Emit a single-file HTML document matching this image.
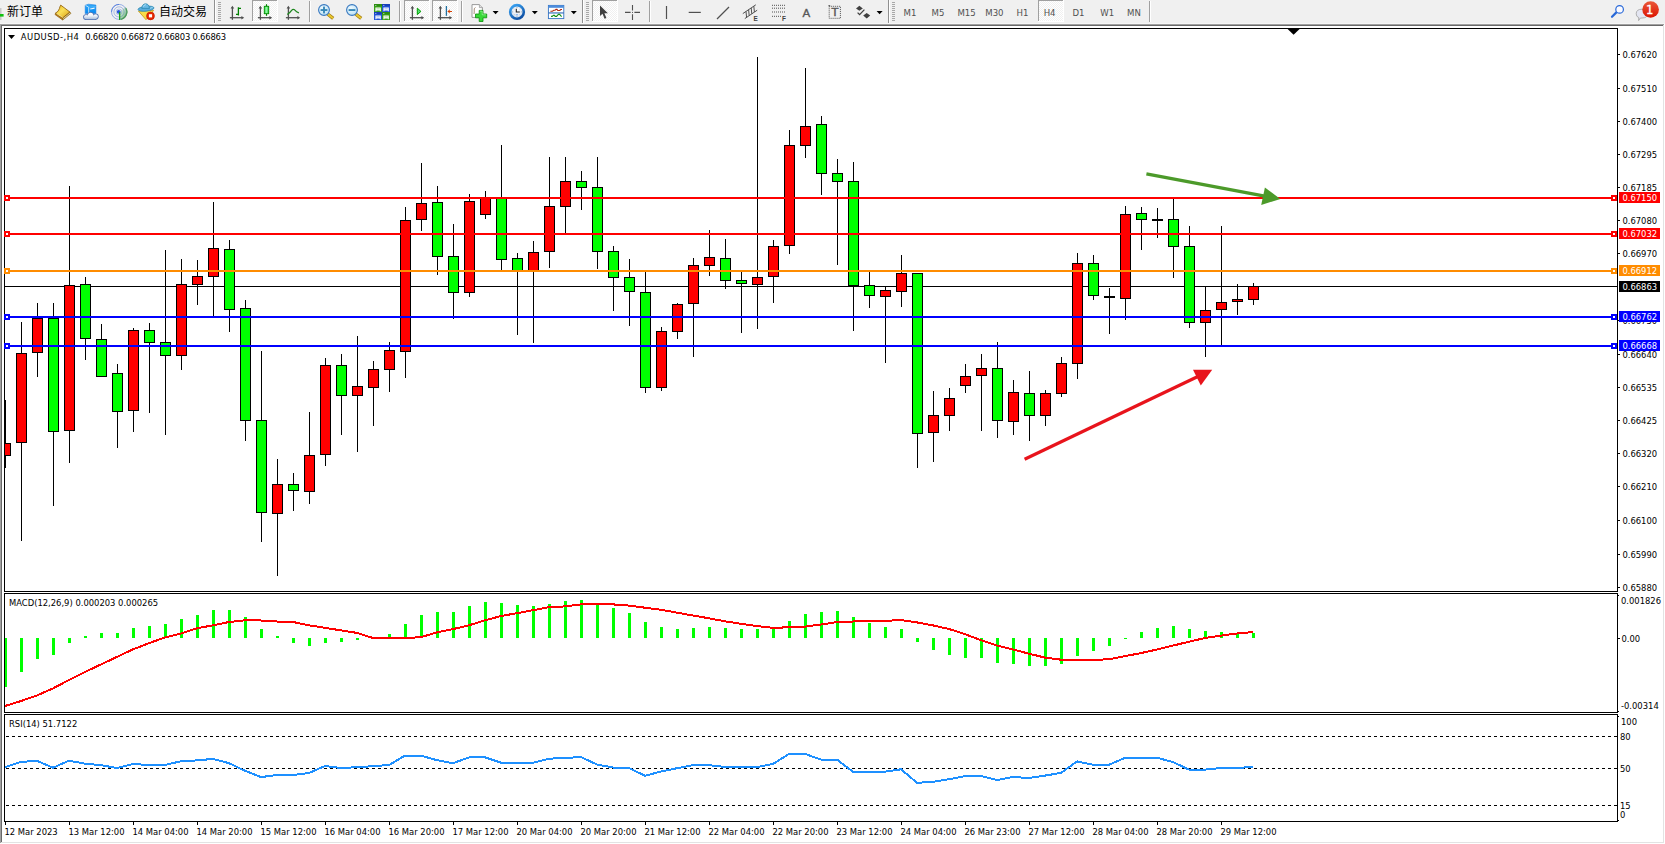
<!DOCTYPE html>
<html><head><meta charset="utf-8"><title>AUDUSD-,H4</title>
<style>
html,body{margin:0;padding:0;background:#fff;}
body{width:1665px;height:844px;position:relative;overflow:hidden;font-family:"Liberation Sans", "Noto Sans CJK SC", sans-serif;}
#tb{position:absolute;left:0;top:0;width:1665px;height:23px;background:#F0F0F0;}
#tbh{position:absolute;left:0;top:23px;width:1665px;height:1px;background:#F6F6F6;}
#e1{position:absolute;left:0;top:24px;width:1665px;height:820px;background:#FFFFFF;}
#e2{position:absolute;left:0;top:24px;width:1664px;height:819px;background:#A0A0A0;}
#e3{position:absolute;left:1px;top:25px;width:1663px;height:818px;background:#E3E3E3;}
#e4{position:absolute;left:1px;top:25px;width:1662px;height:817px;background:#696969;}
#e5{position:absolute;left:2px;top:26px;width:1661px;height:816px;background:#fff;}
.t{position:absolute;white-space:nowrap;}
</style></head><body>
<div id="tb"></div><div id="tbh"></div>
<div id="e1"></div><div id="e2"></div><div id="e3"></div><div id="e4"></div><div id="e5"></div>
<svg class="chart" width="1665" height="844" viewBox="0 0 1665 844" style="position:absolute;left:0;top:0">
<g shape-rendering="crispEdges">
<rect x="4" y="28" width="1614" height="1" fill="#000"/>
<rect x="4" y="591" width="1614" height="1" fill="#000"/>
<rect x="4" y="28" width="1" height="564" fill="#000"/>
<rect x="1617" y="28" width="1" height="564" fill="#000"/>
<rect x="4" y="593" width="1614" height="1" fill="#000"/>
<rect x="4" y="712" width="1614" height="1" fill="#000"/>
<rect x="4" y="593" width="1" height="120" fill="#000"/>
<rect x="1617" y="593" width="1" height="120" fill="#000"/>
<rect x="4" y="714" width="1614" height="1" fill="#000"/>
<rect x="4" y="821" width="1614" height="1" fill="#000"/>
<rect x="4" y="714" width="1" height="108" fill="#000"/>
<rect x="1617" y="714" width="1" height="108" fill="#000"/>
<defs><clipPath id="cm"><rect x="5" y="29" width="1612" height="562"/></clipPath><clipPath id="cd"><rect x="5" y="594" width="1612" height="118"/></clipPath><clipPath id="cr"><rect x="5" y="715" width="1612" height="106"/></clipPath></defs>
<rect x="5" y="286" width="1612" height="1" fill="#000"/>
<g clip-path="url(#cm)">
<rect x="5" y="400" width="1" height="68" fill="#000"/>
<rect x="0" y="443" width="11" height="13" fill="#000"/>
<rect x="1" y="444" width="9" height="11" fill="#FF0000"/>
<rect x="21" y="322" width="1" height="219" fill="#000"/>
<rect x="16" y="353" width="11" height="90" fill="#000"/>
<rect x="17" y="354" width="9" height="88" fill="#FF0000"/>
<rect x="37" y="303" width="1" height="74" fill="#000"/>
<rect x="32" y="318" width="11" height="35" fill="#000"/>
<rect x="33" y="319" width="9" height="33" fill="#FF0000"/>
<rect x="53" y="303" width="1" height="203" fill="#000"/>
<rect x="48" y="318" width="11" height="114" fill="#000"/>
<rect x="49" y="319" width="9" height="112" fill="#00FF00"/>
<rect x="69" y="186" width="1" height="277" fill="#000"/>
<rect x="64" y="285" width="11" height="146" fill="#000"/>
<rect x="65" y="286" width="9" height="144" fill="#FF0000"/>
<rect x="85" y="277" width="1" height="83" fill="#000"/>
<rect x="80" y="284" width="11" height="55" fill="#000"/>
<rect x="81" y="285" width="9" height="53" fill="#00FF00"/>
<rect x="101" y="324" width="1" height="53" fill="#000"/>
<rect x="96" y="339" width="11" height="38" fill="#000"/>
<rect x="97" y="340" width="9" height="36" fill="#00FF00"/>
<rect x="117" y="364" width="1" height="84" fill="#000"/>
<rect x="112" y="373" width="11" height="39" fill="#000"/>
<rect x="113" y="374" width="9" height="37" fill="#00FF00"/>
<rect x="133" y="328" width="1" height="104" fill="#000"/>
<rect x="128" y="330" width="11" height="81" fill="#000"/>
<rect x="129" y="331" width="9" height="79" fill="#FF0000"/>
<rect x="149" y="323" width="1" height="90" fill="#000"/>
<rect x="144" y="330" width="11" height="13" fill="#000"/>
<rect x="145" y="331" width="9" height="11" fill="#00FF00"/>
<rect x="165" y="250" width="1" height="185" fill="#000"/>
<rect x="160" y="342" width="11" height="14" fill="#000"/>
<rect x="161" y="343" width="9" height="12" fill="#00FF00"/>
<rect x="181" y="259" width="1" height="111" fill="#000"/>
<rect x="176" y="284" width="11" height="72" fill="#000"/>
<rect x="177" y="285" width="9" height="70" fill="#FF0000"/>
<rect x="197" y="260" width="1" height="45" fill="#000"/>
<rect x="192" y="276" width="11" height="9" fill="#000"/>
<rect x="193" y="277" width="9" height="7" fill="#FF0000"/>
<rect x="213" y="202" width="1" height="114" fill="#000"/>
<rect x="208" y="248" width="11" height="29" fill="#000"/>
<rect x="209" y="249" width="9" height="27" fill="#FF0000"/>
<rect x="229" y="240" width="1" height="92" fill="#000"/>
<rect x="224" y="249" width="11" height="61" fill="#000"/>
<rect x="225" y="250" width="9" height="59" fill="#00FF00"/>
<rect x="245" y="300" width="1" height="141" fill="#000"/>
<rect x="240" y="308" width="11" height="113" fill="#000"/>
<rect x="241" y="309" width="9" height="111" fill="#00FF00"/>
<rect x="261" y="351" width="1" height="191" fill="#000"/>
<rect x="256" y="420" width="11" height="93" fill="#000"/>
<rect x="257" y="421" width="9" height="91" fill="#00FF00"/>
<rect x="277" y="459" width="1" height="117" fill="#000"/>
<rect x="272" y="484" width="11" height="30" fill="#000"/>
<rect x="273" y="485" width="9" height="28" fill="#FF0000"/>
<rect x="293" y="473" width="1" height="38" fill="#000"/>
<rect x="288" y="484" width="11" height="7" fill="#000"/>
<rect x="289" y="485" width="9" height="5" fill="#00FF00"/>
<rect x="309" y="412" width="1" height="92" fill="#000"/>
<rect x="304" y="455" width="11" height="37" fill="#000"/>
<rect x="305" y="456" width="9" height="35" fill="#FF0000"/>
<rect x="325" y="358" width="1" height="108" fill="#000"/>
<rect x="320" y="365" width="11" height="90" fill="#000"/>
<rect x="321" y="366" width="9" height="88" fill="#FF0000"/>
<rect x="341" y="354" width="1" height="81" fill="#000"/>
<rect x="336" y="365" width="11" height="31" fill="#000"/>
<rect x="337" y="366" width="9" height="29" fill="#00FF00"/>
<rect x="357" y="336" width="1" height="116" fill="#000"/>
<rect x="352" y="386" width="11" height="10" fill="#000"/>
<rect x="353" y="387" width="9" height="8" fill="#FF0000"/>
<rect x="373" y="361" width="1" height="65" fill="#000"/>
<rect x="368" y="369" width="11" height="19" fill="#000"/>
<rect x="369" y="370" width="9" height="17" fill="#FF0000"/>
<rect x="389" y="342" width="1" height="50" fill="#000"/>
<rect x="384" y="350" width="11" height="20" fill="#000"/>
<rect x="385" y="351" width="9" height="18" fill="#FF0000"/>
<rect x="405" y="207" width="1" height="171" fill="#000"/>
<rect x="400" y="220" width="11" height="132" fill="#000"/>
<rect x="401" y="221" width="9" height="130" fill="#FF0000"/>
<rect x="421" y="163" width="1" height="68" fill="#000"/>
<rect x="416" y="203" width="11" height="17" fill="#000"/>
<rect x="417" y="204" width="9" height="15" fill="#FF0000"/>
<rect x="437" y="186" width="1" height="89" fill="#000"/>
<rect x="432" y="202" width="11" height="55" fill="#000"/>
<rect x="433" y="203" width="9" height="53" fill="#00FF00"/>
<rect x="453" y="224" width="1" height="95" fill="#000"/>
<rect x="448" y="256" width="11" height="37" fill="#000"/>
<rect x="449" y="257" width="9" height="35" fill="#00FF00"/>
<rect x="469" y="194" width="1" height="103" fill="#000"/>
<rect x="464" y="201" width="11" height="92" fill="#000"/>
<rect x="465" y="202" width="9" height="90" fill="#FF0000"/>
<rect x="485" y="191" width="1" height="28" fill="#000"/>
<rect x="480" y="198" width="11" height="17" fill="#000"/>
<rect x="481" y="199" width="9" height="15" fill="#FF0000"/>
<rect x="501" y="145" width="1" height="125" fill="#000"/>
<rect x="496" y="198" width="11" height="62" fill="#000"/>
<rect x="497" y="199" width="9" height="60" fill="#00FF00"/>
<rect x="517" y="253" width="1" height="82" fill="#000"/>
<rect x="512" y="258" width="11" height="13" fill="#000"/>
<rect x="513" y="259" width="9" height="11" fill="#00FF00"/>
<rect x="533" y="241" width="1" height="102" fill="#000"/>
<rect x="528" y="252" width="11" height="19" fill="#000"/>
<rect x="529" y="253" width="9" height="17" fill="#FF0000"/>
<rect x="549" y="157" width="1" height="111" fill="#000"/>
<rect x="544" y="206" width="11" height="46" fill="#000"/>
<rect x="545" y="207" width="9" height="44" fill="#FF0000"/>
<rect x="565" y="157" width="1" height="76" fill="#000"/>
<rect x="560" y="181" width="11" height="26" fill="#000"/>
<rect x="561" y="182" width="9" height="24" fill="#FF0000"/>
<rect x="581" y="171" width="1" height="39" fill="#000"/>
<rect x="576" y="181" width="11" height="7" fill="#000"/>
<rect x="577" y="182" width="9" height="5" fill="#00FF00"/>
<rect x="597" y="157" width="1" height="112" fill="#000"/>
<rect x="592" y="187" width="11" height="65" fill="#000"/>
<rect x="593" y="188" width="9" height="63" fill="#00FF00"/>
<rect x="613" y="246" width="1" height="65" fill="#000"/>
<rect x="608" y="251" width="11" height="27" fill="#000"/>
<rect x="609" y="252" width="9" height="25" fill="#00FF00"/>
<rect x="629" y="259" width="1" height="67" fill="#000"/>
<rect x="624" y="277" width="11" height="15" fill="#000"/>
<rect x="625" y="278" width="9" height="13" fill="#00FF00"/>
<rect x="645" y="272" width="1" height="121" fill="#000"/>
<rect x="640" y="292" width="11" height="96" fill="#000"/>
<rect x="641" y="293" width="9" height="94" fill="#00FF00"/>
<rect x="661" y="327" width="1" height="64" fill="#000"/>
<rect x="656" y="331" width="11" height="57" fill="#000"/>
<rect x="657" y="332" width="9" height="55" fill="#FF0000"/>
<rect x="677" y="303" width="1" height="36" fill="#000"/>
<rect x="672" y="304" width="11" height="28" fill="#000"/>
<rect x="673" y="305" width="9" height="26" fill="#FF0000"/>
<rect x="693" y="258" width="1" height="99" fill="#000"/>
<rect x="688" y="265" width="11" height="39" fill="#000"/>
<rect x="689" y="266" width="9" height="37" fill="#FF0000"/>
<rect x="709" y="230" width="1" height="46" fill="#000"/>
<rect x="704" y="257" width="11" height="9" fill="#000"/>
<rect x="705" y="258" width="9" height="7" fill="#FF0000"/>
<rect x="725" y="239" width="1" height="50" fill="#000"/>
<rect x="720" y="258" width="11" height="23" fill="#000"/>
<rect x="721" y="259" width="9" height="21" fill="#00FF00"/>
<rect x="741" y="272" width="1" height="61" fill="#000"/>
<rect x="736" y="280" width="11" height="4" fill="#000"/>
<rect x="737" y="281" width="9" height="2" fill="#00FF00"/>
<rect x="757" y="57" width="1" height="272" fill="#000"/>
<rect x="752" y="277" width="11" height="8" fill="#000"/>
<rect x="753" y="278" width="9" height="6" fill="#FF0000"/>
<rect x="773" y="240" width="1" height="63" fill="#000"/>
<rect x="768" y="246" width="11" height="31" fill="#000"/>
<rect x="769" y="247" width="9" height="29" fill="#FF0000"/>
<rect x="789" y="130" width="1" height="124" fill="#000"/>
<rect x="784" y="145" width="11" height="101" fill="#000"/>
<rect x="785" y="146" width="9" height="99" fill="#FF0000"/>
<rect x="805" y="68" width="1" height="90" fill="#000"/>
<rect x="800" y="126" width="11" height="20" fill="#000"/>
<rect x="801" y="127" width="9" height="18" fill="#FF0000"/>
<rect x="821" y="116" width="1" height="79" fill="#000"/>
<rect x="816" y="124" width="11" height="50" fill="#000"/>
<rect x="817" y="125" width="9" height="48" fill="#00FF00"/>
<rect x="837" y="159" width="1" height="106" fill="#000"/>
<rect x="832" y="173" width="11" height="9" fill="#000"/>
<rect x="833" y="174" width="9" height="7" fill="#00FF00"/>
<rect x="853" y="162" width="1" height="169" fill="#000"/>
<rect x="848" y="181" width="11" height="105" fill="#000"/>
<rect x="849" y="182" width="9" height="103" fill="#00FF00"/>
<rect x="869" y="272" width="1" height="36" fill="#000"/>
<rect x="864" y="285" width="11" height="11" fill="#000"/>
<rect x="865" y="286" width="9" height="9" fill="#00FF00"/>
<rect x="885" y="287" width="1" height="76" fill="#000"/>
<rect x="880" y="290" width="11" height="7" fill="#000"/>
<rect x="881" y="291" width="9" height="5" fill="#FF0000"/>
<rect x="901" y="255" width="1" height="52" fill="#000"/>
<rect x="896" y="273" width="11" height="19" fill="#000"/>
<rect x="897" y="274" width="9" height="17" fill="#FF0000"/>
<rect x="917" y="273" width="1" height="195" fill="#000"/>
<rect x="912" y="273" width="11" height="161" fill="#000"/>
<rect x="913" y="274" width="9" height="159" fill="#00FF00"/>
<rect x="933" y="391" width="1" height="71" fill="#000"/>
<rect x="928" y="415" width="11" height="18" fill="#000"/>
<rect x="929" y="416" width="9" height="16" fill="#FF0000"/>
<rect x="949" y="388" width="1" height="43" fill="#000"/>
<rect x="944" y="398" width="11" height="18" fill="#000"/>
<rect x="945" y="399" width="9" height="16" fill="#FF0000"/>
<rect x="965" y="364" width="1" height="29" fill="#000"/>
<rect x="960" y="376" width="11" height="10" fill="#000"/>
<rect x="961" y="377" width="9" height="8" fill="#FF0000"/>
<rect x="981" y="354" width="1" height="77" fill="#000"/>
<rect x="976" y="368" width="11" height="8" fill="#000"/>
<rect x="977" y="369" width="9" height="6" fill="#FF0000"/>
<rect x="997" y="342" width="1" height="96" fill="#000"/>
<rect x="992" y="368" width="11" height="53" fill="#000"/>
<rect x="993" y="369" width="9" height="51" fill="#00FF00"/>
<rect x="1013" y="380" width="1" height="55" fill="#000"/>
<rect x="1008" y="392" width="11" height="30" fill="#000"/>
<rect x="1009" y="393" width="9" height="28" fill="#FF0000"/>
<rect x="1029" y="371" width="1" height="70" fill="#000"/>
<rect x="1024" y="393" width="11" height="23" fill="#000"/>
<rect x="1025" y="394" width="9" height="21" fill="#00FF00"/>
<rect x="1045" y="390" width="1" height="36" fill="#000"/>
<rect x="1040" y="393" width="11" height="23" fill="#000"/>
<rect x="1041" y="394" width="9" height="21" fill="#FF0000"/>
<rect x="1061" y="357" width="1" height="40" fill="#000"/>
<rect x="1056" y="363" width="11" height="31" fill="#000"/>
<rect x="1057" y="364" width="9" height="29" fill="#FF0000"/>
<rect x="1077" y="253" width="1" height="126" fill="#000"/>
<rect x="1072" y="263" width="11" height="101" fill="#000"/>
<rect x="1073" y="264" width="9" height="99" fill="#FF0000"/>
<rect x="1093" y="255" width="1" height="45" fill="#000"/>
<rect x="1088" y="263" width="11" height="33" fill="#000"/>
<rect x="1089" y="264" width="9" height="31" fill="#00FF00"/>
<rect x="1109" y="288" width="1" height="46" fill="#000"/>
<rect x="1104" y="296" width="11" height="2" fill="#000"/>
<rect x="1125" y="206" width="1" height="114" fill="#000"/>
<rect x="1120" y="214" width="11" height="85" fill="#000"/>
<rect x="1121" y="215" width="9" height="83" fill="#FF0000"/>
<rect x="1141" y="207" width="1" height="43" fill="#000"/>
<rect x="1136" y="213" width="11" height="7" fill="#000"/>
<rect x="1137" y="214" width="9" height="5" fill="#00FF00"/>
<rect x="1157" y="208" width="1" height="30" fill="#000"/>
<rect x="1152" y="219" width="11" height="2" fill="#000"/>
<rect x="1173" y="199" width="1" height="79" fill="#000"/>
<rect x="1168" y="219" width="11" height="28" fill="#000"/>
<rect x="1169" y="220" width="9" height="26" fill="#00FF00"/>
<rect x="1189" y="226" width="1" height="102" fill="#000"/>
<rect x="1184" y="246" width="11" height="77" fill="#000"/>
<rect x="1185" y="247" width="9" height="75" fill="#00FF00"/>
<rect x="1205" y="287" width="1" height="70" fill="#000"/>
<rect x="1200" y="310" width="11" height="13" fill="#000"/>
<rect x="1201" y="311" width="9" height="11" fill="#FF0000"/>
<rect x="1221" y="226" width="1" height="120" fill="#000"/>
<rect x="1216" y="302" width="11" height="8" fill="#000"/>
<rect x="1217" y="303" width="9" height="6" fill="#FF0000"/>
<rect x="1237" y="284" width="1" height="31" fill="#000"/>
<rect x="1232" y="299" width="11" height="3" fill="#000"/>
<rect x="1233" y="300" width="9" height="1" fill="#FF0000"/>
<rect x="1253" y="283" width="1" height="22" fill="#000"/>
<rect x="1248" y="286" width="11" height="14" fill="#000"/>
<rect x="1249" y="287" width="9" height="12" fill="#FF0000"/>
</g>
<rect x="5" y="197" width="1612" height="2" fill="#FF0000"/>
<rect x="4" y="195" width="6" height="6" fill="#FF0000"/>
<rect x="6" y="197" width="2" height="2" fill="#fff"/>
<rect x="1611" y="195" width="6" height="6" fill="#FF0000"/>
<rect x="1613" y="197" width="2" height="2" fill="#fff"/>
<rect x="5" y="233" width="1612" height="2" fill="#FF0000"/>
<rect x="4" y="231" width="6" height="6" fill="#FF0000"/>
<rect x="6" y="233" width="2" height="2" fill="#fff"/>
<rect x="1611" y="231" width="6" height="6" fill="#FF0000"/>
<rect x="1613" y="233" width="2" height="2" fill="#fff"/>
<rect x="5" y="270" width="1612" height="2" fill="#FF8C00"/>
<rect x="4" y="268" width="6" height="6" fill="#FF8C00"/>
<rect x="6" y="270" width="2" height="2" fill="#fff"/>
<rect x="1611" y="268" width="6" height="6" fill="#FF8C00"/>
<rect x="1613" y="270" width="2" height="2" fill="#fff"/>
<rect x="5" y="316" width="1612" height="2" fill="#0000FF"/>
<rect x="4" y="314" width="6" height="6" fill="#0000FF"/>
<rect x="6" y="316" width="2" height="2" fill="#fff"/>
<rect x="1611" y="314" width="6" height="6" fill="#0000FF"/>
<rect x="1613" y="316" width="2" height="2" fill="#fff"/>
<rect x="5" y="345" width="1612" height="2" fill="#0000FF"/>
<rect x="4" y="343" width="6" height="6" fill="#0000FF"/>
<rect x="6" y="345" width="2" height="2" fill="#fff"/>
<rect x="1611" y="343" width="6" height="6" fill="#0000FF"/>
<rect x="1613" y="345" width="2" height="2" fill="#fff"/>
<rect x="1617" y="28" width="1" height="564" fill="#000"/>
<rect x="1618" y="54" width="2" height="1" fill="#000"/>
<rect x="1618" y="88" width="2" height="1" fill="#000"/>
<rect x="1618" y="121" width="2" height="1" fill="#000"/>
<rect x="1618" y="154" width="2" height="1" fill="#000"/>
<rect x="1618" y="187" width="2" height="1" fill="#000"/>
<rect x="1618" y="220" width="2" height="1" fill="#000"/>
<rect x="1618" y="253" width="2" height="1" fill="#000"/>
<rect x="1618" y="320" width="2" height="1" fill="#000"/>
<rect x="1618" y="354" width="2" height="1" fill="#000"/>
<rect x="1618" y="387" width="2" height="1" fill="#000"/>
<rect x="1618" y="420" width="2" height="1" fill="#000"/>
<rect x="1618" y="453" width="2" height="1" fill="#000"/>
<rect x="1618" y="486" width="2" height="1" fill="#000"/>
<rect x="1618" y="520" width="2" height="1" fill="#000"/>
<rect x="1618" y="554" width="2" height="1" fill="#000"/>
<rect x="1618" y="587" width="2" height="1" fill="#000"/>
<rect x="1618" y="595" width="1" height="1" fill="#000"/>
<rect x="1618" y="638" width="1" height="1" fill="#000"/>
<rect x="1618" y="711" width="1" height="1" fill="#000"/>
<rect x="1618" y="638" width="2" height="1" fill="#000"/>
<rect x="1618" y="716" width="1" height="1" fill="#000"/>
<rect x="1618" y="820" width="1" height="1" fill="#000"/>
<g clip-path="url(#cd)">
<rect x="4" y="638" width="3" height="49" fill="#00FF00"/>
<rect x="20" y="638" width="3" height="34" fill="#00FF00"/>
<rect x="36" y="638" width="3" height="21" fill="#00FF00"/>
<rect x="52" y="638" width="3" height="17" fill="#00FF00"/>
<rect x="68" y="638" width="3" height="5" fill="#00FF00"/>
<rect x="84" y="636" width="3" height="2" fill="#00FF00"/>
<rect x="100" y="633" width="3" height="5" fill="#00FF00"/>
<rect x="116" y="633" width="3" height="5" fill="#00FF00"/>
<rect x="132" y="628" width="3" height="10" fill="#00FF00"/>
<rect x="148" y="626" width="3" height="12" fill="#00FF00"/>
<rect x="164" y="624" width="3" height="14" fill="#00FF00"/>
<rect x="180" y="619" width="3" height="19" fill="#00FF00"/>
<rect x="196" y="615" width="3" height="23" fill="#00FF00"/>
<rect x="212" y="610" width="3" height="28" fill="#00FF00"/>
<rect x="228" y="610" width="3" height="28" fill="#00FF00"/>
<rect x="244" y="617" width="3" height="21" fill="#00FF00"/>
<rect x="260" y="629" width="3" height="9" fill="#00FF00"/>
<rect x="276" y="636" width="3" height="2" fill="#00FF00"/>
<rect x="292" y="638" width="3" height="5" fill="#00FF00"/>
<rect x="308" y="638" width="3" height="8" fill="#00FF00"/>
<rect x="324" y="638" width="3" height="5" fill="#00FF00"/>
<rect x="340" y="638" width="3" height="4" fill="#00FF00"/>
<rect x="356" y="638" width="3" height="2" fill="#00FF00"/>
<rect x="388" y="634" width="3" height="4" fill="#00FF00"/>
<rect x="404" y="624" width="3" height="14" fill="#00FF00"/>
<rect x="420" y="615" width="3" height="23" fill="#00FF00"/>
<rect x="436" y="612" width="3" height="26" fill="#00FF00"/>
<rect x="452" y="612" width="3" height="26" fill="#00FF00"/>
<rect x="468" y="606" width="3" height="32" fill="#00FF00"/>
<rect x="484" y="602" width="3" height="36" fill="#00FF00"/>
<rect x="500" y="603" width="3" height="35" fill="#00FF00"/>
<rect x="516" y="605" width="3" height="33" fill="#00FF00"/>
<rect x="532" y="606" width="3" height="32" fill="#00FF00"/>
<rect x="548" y="604" width="3" height="34" fill="#00FF00"/>
<rect x="564" y="601" width="3" height="37" fill="#00FF00"/>
<rect x="580" y="600" width="3" height="38" fill="#00FF00"/>
<rect x="596" y="604" width="3" height="34" fill="#00FF00"/>
<rect x="612" y="608" width="3" height="30" fill="#00FF00"/>
<rect x="628" y="613" width="3" height="25" fill="#00FF00"/>
<rect x="644" y="622" width="3" height="16" fill="#00FF00"/>
<rect x="660" y="627" width="3" height="11" fill="#00FF00"/>
<rect x="676" y="629" width="3" height="9" fill="#00FF00"/>
<rect x="692" y="628" width="3" height="10" fill="#00FF00"/>
<rect x="708" y="627" width="3" height="11" fill="#00FF00"/>
<rect x="724" y="628" width="3" height="10" fill="#00FF00"/>
<rect x="740" y="629" width="3" height="9" fill="#00FF00"/>
<rect x="756" y="629" width="3" height="9" fill="#00FF00"/>
<rect x="772" y="628" width="3" height="10" fill="#00FF00"/>
<rect x="788" y="621" width="3" height="17" fill="#00FF00"/>
<rect x="804" y="614" width="3" height="24" fill="#00FF00"/>
<rect x="820" y="612" width="3" height="26" fill="#00FF00"/>
<rect x="836" y="611" width="3" height="27" fill="#00FF00"/>
<rect x="852" y="617" width="3" height="21" fill="#00FF00"/>
<rect x="868" y="623" width="3" height="15" fill="#00FF00"/>
<rect x="884" y="627" width="3" height="11" fill="#00FF00"/>
<rect x="900" y="629" width="3" height="9" fill="#00FF00"/>
<rect x="916" y="638" width="3" height="4" fill="#00FF00"/>
<rect x="932" y="638" width="3" height="12" fill="#00FF00"/>
<rect x="948" y="638" width="3" height="17" fill="#00FF00"/>
<rect x="964" y="638" width="3" height="20" fill="#00FF00"/>
<rect x="980" y="638" width="3" height="20" fill="#00FF00"/>
<rect x="996" y="638" width="3" height="25" fill="#00FF00"/>
<rect x="1012" y="638" width="3" height="26" fill="#00FF00"/>
<rect x="1028" y="638" width="3" height="28" fill="#00FF00"/>
<rect x="1044" y="638" width="3" height="28" fill="#00FF00"/>
<rect x="1060" y="638" width="3" height="26" fill="#00FF00"/>
<rect x="1076" y="638" width="3" height="18" fill="#00FF00"/>
<rect x="1092" y="638" width="3" height="13" fill="#00FF00"/>
<rect x="1108" y="638" width="3" height="8" fill="#00FF00"/>
<rect x="1124" y="638" width="3" height="1" fill="#00FF00"/>
<rect x="1140" y="632" width="3" height="6" fill="#00FF00"/>
<rect x="1156" y="628" width="3" height="10" fill="#00FF00"/>
<rect x="1172" y="626" width="3" height="12" fill="#00FF00"/>
<rect x="1188" y="629" width="3" height="9" fill="#00FF00"/>
<rect x="1204" y="631" width="3" height="7" fill="#00FF00"/>
<rect x="1220" y="632" width="3" height="6" fill="#00FF00"/>
<rect x="1236" y="634" width="3" height="4" fill="#00FF00"/>
<rect x="1252" y="633" width="3" height="5" fill="#00FF00"/>
</g>
<path d="M6 736.5H1617" stroke="#000" stroke-width="1" stroke-dasharray="3 3" fill="none"/>
<path d="M6 768.5H1617" stroke="#000" stroke-width="1" stroke-dasharray="3 3" fill="none"/>
<path d="M6 805.5H1617" stroke="#000" stroke-width="1" stroke-dasharray="3 3" fill="none"/>
<rect x="5" y="822" width="1" height="3" fill="#000"/>
<rect x="69" y="822" width="1" height="3" fill="#000"/>
<rect x="133" y="822" width="1" height="3" fill="#000"/>
<rect x="197" y="822" width="1" height="3" fill="#000"/>
<rect x="261" y="822" width="1" height="3" fill="#000"/>
<rect x="325" y="822" width="1" height="3" fill="#000"/>
<rect x="389" y="822" width="1" height="3" fill="#000"/>
<rect x="453" y="822" width="1" height="3" fill="#000"/>
<rect x="517" y="822" width="1" height="3" fill="#000"/>
<rect x="581" y="822" width="1" height="3" fill="#000"/>
<rect x="645" y="822" width="1" height="3" fill="#000"/>
<rect x="709" y="822" width="1" height="3" fill="#000"/>
<rect x="773" y="822" width="1" height="3" fill="#000"/>
<rect x="837" y="822" width="1" height="3" fill="#000"/>
<rect x="901" y="822" width="1" height="3" fill="#000"/>
<rect x="965" y="822" width="1" height="3" fill="#000"/>
<rect x="1029" y="822" width="1" height="3" fill="#000"/>
<rect x="1093" y="822" width="1" height="3" fill="#000"/>
<rect x="1157" y="822" width="1" height="3" fill="#000"/>
<rect x="1221" y="822" width="1" height="3" fill="#000"/>
</g>
<g clip-path="url(#cd)"><polyline points="-11,710.5 5,706.0 21,701.0 37,695.4 53,688.4 69,680.0 85,672.0 101,664.4 117,656.9 133,649.3 149,643.2 165,637.4 181,633.6 197,628.3 213,625.3 229,622.0 245,620.3 261,620.5 277,621.5 293,622.0 309,625.3 325,627.8 341,630.4 357,632.9 373,638.0 389,638.0 405,638.0 421,637.2 437,632.4 453,629.1 469,625.3 485,620.3 501,616.0 517,613.2 533,610.2 549,607.2 565,606.4 581,604.4 597,603.9 613,604.4 629,605.6 645,607.7 661,609.7 677,612.7 693,615.5 709,618.3 725,621.3 741,623.8 757,626.1 773,627.8 789,627.3 805,626.6 821,624.5 837,622.1 853,621.5 869,621.2 885,620.9 901,620.0 917,622.4 933,625.4 949,629.0 965,634.1 981,640.2 997,645.6 1013,649.5 1029,653.7 1045,657.6 1061,659.7 1077,659.7 1093,659.7 1109,659.4 1125,656.1 1141,653.1 1157,649.5 1173,645.6 1189,641.7 1205,638.0 1221,635.6 1237,633.5 1253,632.0" fill="none" stroke="#FF0000" stroke-width="2" stroke-linejoin="round" shape-rendering="crispEdges"/></g>
<g clip-path="url(#cr)"><polyline points="-11,770 5,767.2 21,761.9 37,760.9 53,767.7 69,760.7 85,763.7 101,765.2 117,768.0 133,764.0 149,765.0 165,765.0 181,761.2 197,760.4 213,758.9 229,763.2 245,770.8 261,777.1 277,775.0 293,775.0 309,773.0 325,766.0 341,768.0 357,767.2 373,766.2 389,765.0 405,755.6 421,755.6 437,760.2 453,763.2 469,757.4 485,757.4 501,762.7 517,762.7 533,762.7 549,758.7 565,757.9 581,757.1 597,764.5 613,767.5 629,768.0 645,775.8 661,771.5 677,768.2 693,765.2 709,765.2 725,767.0 741,767.0 757,767.0 773,764.0 789,753.9 805,753.9 821,759.6 837,759.6 853,771.7 869,771.7 885,771.7 901,769.3 917,782.8 933,781.9 949,779.2 965,776.2 981,775.9 997,780.0 1013,777.0 1029,778.0 1045,775.6 1061,772.9 1077,761.4 1093,764.7 1109,764.7 1125,757.8 1141,757.8 1157,757.8 1173,762.0 1189,769.6 1205,769.6 1221,768.0 1237,768.0 1253,766.9" fill="none" stroke="#1E90FF" stroke-width="2" stroke-linejoin="round" shape-rendering="crispEdges"/></g>
<g>
<line x1="1024.6" y1="459.2" x2="1200" y2="375.5" stroke="#E8141C" stroke-width="3.2"/>
<polygon points="1193,369.8 1212.2,369.8 1200.8,385.4" fill="#E8141C"/>
<line x1="1146.4" y1="173.8" x2="1266" y2="196.3" stroke="#4C9A2A" stroke-width="3.4"/>
<polygon points="1264.9,187.4 1280.4,198.9 1261.2,205.1" fill="#4C9A2A"/>
</g>
<polygon points="1287.6,29 1299.6,29 1293.6,34.8" fill="#000"/>
<polygon points="8,35 15,35 11.5,39" fill="#000"/>
<g font-family='"DejaVu Sans Condensed", "Liberation Sans", sans-serif' font-size="9.33px" fill="#000">
<text x="20.8" y="39.8" textLength="58" lengthAdjust="spacing">AUDUSD-,H4</text>
<text x="85.2" y="39.8" textLength="140.8" lengthAdjust="spacing">0.66820 0.66872 0.66803 0.66863</text>
<text x="9" y="605.8">MACD(12,26,9) 0.000203 0.000265</text>
<text x="9" y="726.8">RSI(14) 51.7122</text>
<text x="1622.4" y="57.9">0.67620</text>
<text x="1622.4" y="91.9">0.67510</text>
<text x="1622.4" y="124.9">0.67400</text>
<text x="1622.4" y="157.9">0.67295</text>
<text x="1622.4" y="190.9">0.67185</text>
<text x="1622.4" y="223.9">0.67080</text>
<text x="1622.4" y="256.9">0.66970</text>
<text x="1622.4" y="323.9">0.66750</text>
<text x="1622.4" y="357.9">0.66640</text>
<text x="1622.4" y="390.9">0.66535</text>
<text x="1622.4" y="423.9">0.66425</text>
<text x="1622.4" y="456.9">0.66320</text>
<text x="1622.4" y="489.9">0.66210</text>
<text x="1622.4" y="523.9">0.66100</text>
<text x="1622.4" y="557.9">0.65990</text>
<text x="1622.4" y="590.9">0.65880</text>
<g shape-rendering="crispEdges">
<rect x="1619" y="192" width="41" height="11" fill="#FF0000"/>
<rect x="1619" y="228" width="41" height="11" fill="#FF0000"/>
<rect x="1619" y="265" width="41" height="11" fill="#FF8C00"/>
<rect x="1619" y="311" width="41" height="11" fill="#0000FF"/>
<rect x="1619" y="340" width="41" height="11" fill="#0000FF"/>
<rect x="1619" y="281" width="41" height="11" fill="#000"/>
</g>
<text x="1622.4" y="200.8" fill="#fff">0.67150</text>
<text x="1622.4" y="236.8" fill="#fff">0.67032</text>
<text x="1622.4" y="273.8" fill="#fff">0.66912</text>
<text x="1622.4" y="319.8" fill="#fff">0.66762</text>
<text x="1622.4" y="348.8" fill="#fff">0.66668</text>
<text x="1622.4" y="289.8" fill="#fff">0.66863</text>
<text x="1621" y="604">0.001826</text>
<text x="1621.5" y="642">0.00</text>
<text x="1621" y="709">-0.00314</text>
<text x="1621" y="725">100</text>
<text x="1620" y="740">80</text>
<text x="1620" y="772">50</text>
<text x="1620" y="809">15</text>
<text x="1620" y="818">0</text>
<text x="4.5" y="834.5">12 Mar 2023</text>
<text x="68.5" y="834.5">13 Mar 12:00</text>
<text x="132.5" y="834.5">14 Mar 04:00</text>
<text x="196.5" y="834.5">14 Mar 20:00</text>
<text x="260.5" y="834.5">15 Mar 12:00</text>
<text x="324.5" y="834.5">16 Mar 04:00</text>
<text x="388.5" y="834.5">16 Mar 20:00</text>
<text x="452.5" y="834.5">17 Mar 12:00</text>
<text x="516.5" y="834.5">20 Mar 04:00</text>
<text x="580.5" y="834.5">20 Mar 20:00</text>
<text x="644.5" y="834.5">21 Mar 12:00</text>
<text x="708.5" y="834.5">22 Mar 04:00</text>
<text x="772.5" y="834.5">22 Mar 20:00</text>
<text x="836.5" y="834.5">23 Mar 12:00</text>
<text x="900.5" y="834.5">24 Mar 04:00</text>
<text x="964.5" y="834.5">26 Mar 23:00</text>
<text x="1028.5" y="834.5">27 Mar 12:00</text>
<text x="1092.5" y="834.5">28 Mar 04:00</text>
<text x="1156.5" y="834.5">28 Mar 20:00</text>
<text x="1220.5" y="834.5">29 Mar 12:00</text>
</g>
</svg>
<svg class="toolbar" width="1665" height="24" viewBox="0 0 1665 24" style="position:absolute;left:0;top:0">
<defs>
<pattern id="dith" width="2" height="2" patternUnits="userSpaceOnUse"><rect width="2" height="2" fill="#FFFFFF"/><rect width="1" height="1" fill="#F0F0F0"/><rect x="1" y="1" width="1" height="1" fill="#F0F0F0"/></pattern>
<linearGradient id="gold" x1="0" y1="0" x2="1" y2="1"><stop offset="0" stop-color="#E8B418"/><stop offset="0.45" stop-color="#FAE058"/><stop offset="1" stop-color="#D89C10"/></linearGradient>
<linearGradient id="cloud2" gradientUnits="userSpaceOnUse" x1="0" y1="12.6" x2="0" y2="19.4"><stop offset="0" stop-color="#FFFFFF"/><stop offset="0.45" stop-color="#F0F4FA"/><stop offset="1" stop-color="#A8BCD8"/></linearGradient>
<linearGradient id="cloud" x1="0" y1="0" x2="0" y2="1"><stop offset="0" stop-color="#FFFFFF"/><stop offset="1" stop-color="#B4C4DC"/></linearGradient>
<linearGradient id="blu" x1="0" y1="0" x2="0" y2="1"><stop offset="0" stop-color="#30A8F8"/><stop offset="1" stop-color="#0888F0"/></linearGradient>
<linearGradient id="badge" x1="0" y1="0" x2="0" y2="1"><stop offset="0" stop-color="#EA5838"/><stop offset="1" stop-color="#DC1400"/></linearGradient>
<linearGradient id="grn" x1="0" y1="0" x2="1" y2="0"><stop offset="0" stop-color="#30D850"/><stop offset="0.5" stop-color="#90F8A0"/><stop offset="1" stop-color="#20C840"/></linearGradient>
<radialGradient id="lens" cx="0.4" cy="0.35" r="0.7"><stop offset="0" stop-color="#F0FAFF"/><stop offset="1" stop-color="#B8E0F4"/></radialGradient>
<linearGradient id="ring" x1="0.2" y1="0" x2="0.8" y2="1"><stop offset="0" stop-color="#38A0F0"/><stop offset="1" stop-color="#0C4CA0"/></linearGradient>
<radialGradient id="clk" cx="0.5" cy="0.4" r="0.6"><stop offset="0" stop-color="#FFFFFF"/><stop offset="1" stop-color="#D0DCEC"/></radialGradient>
<linearGradient id="radar" x1="0" y1="0" x2="1" y2="1"><stop offset="0" stop-color="#C8E8C8" stop-opacity="0.2"/><stop offset="1" stop-color="#30A030"/></linearGradient>
</defs>
<rect x="0" y="8" width="1.5" height="12" fill="#C8C8C8"/>
<rect x="0" y="14" width="3.6" height="2.6" fill="#10C010"/>
<text x="7" y="15.6" font-family='"Liberation Sans", "Noto Sans CJK SC", sans-serif' font-size="12px" fill="#000">新订单</text>
<text x="159" y="15.6" font-family='"Liberation Sans", "Noto Sans CJK SC", sans-serif' font-size="12px" fill="#000">自动交易</text>
<path d="M55.5 13.2 L62.5 18 L62.7 20 L55.1 14.6 Z" fill="#C08018" stroke="#8C5A08" stroke-width="0.7" stroke-linejoin="round"/>
<path d="M62.5 18 L69.9 12 L70.9 13.4 L62.7 20 Z" fill="#D8C488" stroke="#8C6410" stroke-width="0.7" stroke-linejoin="round"/>
<path d="M60.7 5.1 L69.9 12 L62.5 18 L55.5 13.2 Q58.6 11.6 59.4 8.6 Q59.8 6.6 60.7 5.1 Z" fill="url(#gold)" stroke="#8C5A08" stroke-width="0.8" stroke-linejoin="round"/>
<path d="M56.6 13.6 L62.6 17.4" fill="none" stroke="#F8E8A0" stroke-width="0.8"/>
<path d="M85.2 5.2 L88.4 4.2 L95.9 5 L95.9 13.6 L85.2 13.6 Z" fill="url(#blu)" stroke="#1078E0" stroke-width="0.5"/>
<path d="M85.5 5.4 L88.7 7.2 L88.7 13" fill="none" stroke="#E0F4FF" stroke-width="0.8"/>
<path d="M88.7 7.2 L95.8 6.6" fill="none" stroke="#70C8FF" stroke-width="0.5"/>
<path d="M90.2 9 L94.6 8.2" fill="none" stroke="#E8F6FF" stroke-width="1.2"/>
<g fill="#5070B0"><circle cx="86" cy="17.1" r="2.9"/><circle cx="90.6" cy="15.4" r="3.5"/><circle cx="95.6" cy="16.6" r="3.1"/><rect x="85" y="15.6" width="11.4" height="4.4" rx="1.6"/></g>
<g fill="url(#cloud2)"><circle cx="86" cy="17.1" r="2.1"/><circle cx="90.6" cy="15.4" r="2.7"/><circle cx="95.6" cy="16.6" r="2.3"/><rect x="85.6" y="15.4" width="10.4" height="3.8" rx="1.2"/></g>
<path d="M119.4 11.9 L125.6 6.8 A8 8 0 0 1 119.4 19.9 Z" fill="url(#radar)" fill-opacity="0.95"/>
<g fill="none" stroke="#3868D8"><circle cx="119" cy="11.9" r="7.5" stroke-width="0.9" stroke-opacity="0.55"/><circle cx="119" cy="11.9" r="5.1" stroke-width="0.9" stroke-opacity="0.45"/><circle cx="119" cy="11.9" r="2.9" stroke-width="0.8" stroke-opacity="0.4"/></g>
<path d="M111.5 11.9 A7.5 7.5 0 0 1 119 4.4" fill="none" stroke="#3060D8" stroke-width="1" stroke-opacity="0.6"/>
<path d="M126 8.2 A7.9 7.9 0 0 1 121 19.5" fill="none" stroke="#489850" stroke-width="1.1" stroke-opacity="0.9"/>
<circle cx="118.7" cy="11.8" r="1.9" fill="#2858D8"/>
<rect x="119" y="12" width="1.3" height="7.9" fill="#18A018"/>
<path d="M138.4 11 L153.6 10.4 L146 19.7 Z" fill="#F8DC48" stroke="#C89810" stroke-width="0.8" stroke-linejoin="round"/>
<ellipse cx="146" cy="8.7" rx="8" ry="2.5" fill="#58ACDC" stroke="#2484AC" stroke-width="0.7" transform="rotate(-6 146 8.7)"/>
<path d="M141.8 8.4 Q142.2 3.8 145.6 3.8 Q149 3.8 149.4 8.4 Z" fill="#68B8E4" stroke="#2484AC" stroke-width="0.7"/>
<path d="M143.4 6.6 Q144 4.8 145.8 4.6" fill="none" stroke="#B8E4F8" stroke-width="0.9"/>
<path d="M150 8.4 L152.8 7.2" fill="none" stroke="#B8E4F8" stroke-width="0.8"/>
<circle cx="150.5" cy="15.9" r="4" fill="#E82800"/>
<circle cx="150.5" cy="15.9" r="3.9" fill="none" stroke="#C01800" stroke-width="0.6"/>
<rect x="148.9" y="14.2" width="3.2" height="3.2" fill="#FFFFFF"/>
<rect x="214" y="0" width="1" height="23" fill="#909090" shape-rendering="crispEdges"/>
<rect x="215" y="0" width="1" height="23" fill="#FFFFFF" shape-rendering="crispEdges"/>
<rect x="218" y="2" width="3" height="1" fill="#A8A8A8" shape-rendering="crispEdges"/>
<rect x="218" y="4" width="3" height="1" fill="#A8A8A8" shape-rendering="crispEdges"/>
<rect x="218" y="6" width="3" height="1" fill="#A8A8A8" shape-rendering="crispEdges"/>
<rect x="218" y="8" width="3" height="1" fill="#A8A8A8" shape-rendering="crispEdges"/>
<rect x="218" y="10" width="3" height="1" fill="#A8A8A8" shape-rendering="crispEdges"/>
<rect x="218" y="12" width="3" height="1" fill="#A8A8A8" shape-rendering="crispEdges"/>
<rect x="218" y="14" width="3" height="1" fill="#A8A8A8" shape-rendering="crispEdges"/>
<rect x="218" y="16" width="3" height="1" fill="#A8A8A8" shape-rendering="crispEdges"/>
<rect x="218" y="18" width="3" height="1" fill="#A8A8A8" shape-rendering="crispEdges"/>
<rect x="218" y="20" width="3" height="1" fill="#A8A8A8" shape-rendering="crispEdges"/>
<g stroke="#505050" stroke-width="1.3" fill="#505050"><line x1="232.4" y1="7" x2="232.4" y2="19.8"/><line x1="229.9" y1="17.7" x2="242.4" y2="17.7"/><polygon points="230.6,8.6 232.4,5.8 234.20000000000002,8.6" stroke="none"/><polygon points="241.4,15.9 244.20000000000002,17.7 241.4,19.5" stroke="none"/></g>
<g stroke="#008000" stroke-width="1.3" fill="none"><path d="M238.4 7.2 V15.6 M238.4 8.4 H241 M236 14.4 H238.4"/></g>
<g shape-rendering="crispEdges"><rect x="252" y="0" width="26" height="22" fill="url(#dith)"/><rect x="252" y="0" width="26" height="1" fill="#A0A0A0"/><rect x="252" y="0" width="1" height="22" fill="#A0A0A0"/><rect x="252" y="21" width="26" height="1" fill="#FFFFFF"/><rect x="277" y="0" width="1" height="22" fill="#FFFFFF"/></g>
<g stroke="#505050" stroke-width="1.3" fill="#505050"><line x1="260.4" y1="7" x2="260.4" y2="19.8"/><line x1="257.9" y1="17.7" x2="270.4" y2="17.7"/><polygon points="258.59999999999997,8.6 260.4,5.8 262.2,8.6" stroke="none"/><polygon points="269.4,15.9 272.2,17.7 269.4,19.5" stroke="none"/></g>
<line x1="266.5" y1="4.2" x2="266.5" y2="15.8" stroke="#008000" stroke-width="1.2"/>
<rect x="264.3" y="6.3" width="4.4" height="7.4" fill="url(#grn)" stroke="#009000" stroke-width="0.9"/>
<g stroke="#505050" stroke-width="1.3" fill="#505050"><line x1="288.4" y1="7" x2="288.4" y2="19.8"/><line x1="285.9" y1="17.7" x2="298.4" y2="17.7"/><polygon points="286.59999999999997,8.6 288.4,5.8 290.2,8.6" stroke="none"/><polygon points="297.4,15.9 300.2,17.7 297.4,19.5" stroke="none"/></g>
<path d="M287.3 14.6 Q290.5 12.2 291.6 10.4 Q293 8.6 294.6 9.8 Q296.5 12 298.9 12.9" fill="none" stroke="#208820" stroke-width="1.2"/>
<rect x="309" y="1" width="1" height="21" fill="#A0A0A0" shape-rendering="crispEdges"/>
<rect x="310" y="1" width="1" height="21" fill="#FFFFFF" shape-rendering="crispEdges"/>
<line x1="327.6" y1="14" x2="333.2" y2="18.4" stroke="#A07810" stroke-width="3.4" stroke-linecap="butt"/>
<line x1="327.8" y1="14.1" x2="333" y2="18.2" stroke="#E8C830" stroke-width="2"/>
<circle cx="324" cy="10" r="5.4" fill="url(#lens)" stroke="#3878C0" stroke-width="1.1"/>
<rect x="320.6" y="9.1" width="6.8" height="1.9" fill="#3888B8"/>
<rect x="323.05" y="6.6" width="1.9" height="6.8" fill="#3888B8"/>
<line x1="355.6" y1="14" x2="361.2" y2="18.4" stroke="#A07810" stroke-width="3.4" stroke-linecap="butt"/>
<line x1="355.8" y1="14.1" x2="361" y2="18.2" stroke="#E8C830" stroke-width="2"/>
<circle cx="352" cy="10" r="5.4" fill="url(#lens)" stroke="#3878C0" stroke-width="1.1"/>
<rect x="348.6" y="9.1" width="6.8" height="1.9" fill="#3888B8"/>
<rect x="374" y="4" width="8" height="8" fill="#3AA018"/>
<rect x="374" y="4" width="8" height="2.2" fill="#2C8C10"/>
<rect x="375.3" y="5" width="1" height="1" fill="#E0F0FF" fill-opacity="0.8"/>
<path d="M375.4 11.2 V7.6 H380.8 V11.2 H379.8 V10.4 H376.4 V11.2 Z" fill="#FFFFFF"/>
<rect x="376.4" y="8.4" width="3.4" height="0.9" fill="#3AA018" fill-opacity="0.45"/>
<rect x="382" y="4" width="8" height="8" fill="#2454D8"/>
<rect x="382" y="4" width="8" height="2.2" fill="#1840B8"/>
<rect x="383.3" y="5" width="1" height="1" fill="#E0F0FF" fill-opacity="0.8"/>
<path d="M383.4 11.2 V7.6 H388.8 V11.2 H387.8 V10.4 H384.4 V11.2 Z" fill="#FFFFFF"/>
<rect x="384.4" y="8.4" width="3.4" height="0.9" fill="#2454D8" fill-opacity="0.45"/>
<rect x="374" y="12" width="8" height="8" fill="#2454D8"/>
<rect x="374" y="12" width="8" height="2.2" fill="#1840B8"/>
<rect x="375.3" y="13" width="1" height="1" fill="#E0F0FF" fill-opacity="0.8"/>
<path d="M375.4 19.2 V15.6 H380.8 V19.2 H379.8 V18.4 H376.4 V19.2 Z" fill="#FFFFFF"/>
<rect x="376.4" y="16.4" width="3.4" height="0.9" fill="#2454D8" fill-opacity="0.45"/>
<rect x="382" y="12" width="8" height="8" fill="#3AA018"/>
<rect x="382" y="12" width="8" height="2.2" fill="#2C8C10"/>
<rect x="383.3" y="13" width="1" height="1" fill="#E0F0FF" fill-opacity="0.8"/>
<path d="M383.4 19.2 V15.6 H388.8 V19.2 H387.8 V18.4 H384.4 V19.2 Z" fill="#FFFFFF"/>
<rect x="384.4" y="16.4" width="3.4" height="0.9" fill="#3AA018" fill-opacity="0.45"/>
<rect x="399" y="1" width="1" height="21" fill="#A0A0A0" shape-rendering="crispEdges"/>
<rect x="400" y="1" width="1" height="21" fill="#FFFFFF" shape-rendering="crispEdges"/>
<g shape-rendering="crispEdges"><rect x="404" y="0" width="26" height="22" fill="url(#dith)"/><rect x="404" y="0" width="26" height="1" fill="#A0A0A0"/><rect x="404" y="0" width="1" height="22" fill="#A0A0A0"/><rect x="404" y="21" width="26" height="1" fill="#FFFFFF"/><rect x="429" y="0" width="1" height="22" fill="#FFFFFF"/></g>
<g stroke="#505050" stroke-width="1.3" fill="#505050"><line x1="412.4" y1="7" x2="412.4" y2="19.8"/><line x1="409.9" y1="17.7" x2="422.4" y2="17.7"/><polygon points="410.59999999999997,8.6 412.4,5.8 414.2,8.6" stroke="none"/><polygon points="421.4,15.9 424.2,17.7 421.4,19.5" stroke="none"/></g>
<polygon points="417.3,8.2 420.9,11.4 417.3,14.6" fill="#50E070" stroke="#00A000" stroke-width="1"/>
<g shape-rendering="crispEdges"><rect x="432" y="0" width="26" height="22" fill="url(#dith)"/><rect x="432" y="0" width="26" height="1" fill="#A0A0A0"/><rect x="432" y="0" width="1" height="22" fill="#A0A0A0"/><rect x="432" y="21" width="26" height="1" fill="#FFFFFF"/><rect x="457" y="0" width="1" height="22" fill="#FFFFFF"/></g>
<g stroke="#505050" stroke-width="1.3" fill="#505050"><line x1="440.4" y1="7" x2="440.4" y2="19.8"/><line x1="437.9" y1="17.7" x2="450.4" y2="17.7"/><polygon points="438.59999999999997,8.6 440.4,5.8 442.2,8.6" stroke="none"/><polygon points="449.4,15.9 452.2,17.7 449.4,19.5" stroke="none"/></g>
<line x1="446.4" y1="6" x2="446.4" y2="15.8" stroke="#2070A0" stroke-width="1.3"/>
<path d="M447.4 11.4 L450 9.2 L449.6 10.9 L452 10.9 L452 11.9 L449.6 11.9 L450 13.6 Z" fill="#D84000"/>
<rect x="461" y="1" width="1" height="21" fill="#A0A0A0" shape-rendering="crispEdges"/>
<rect x="462" y="1" width="1" height="21" fill="#FFFFFF" shape-rendering="crispEdges"/>
<path d="M472 4.6 H479.4 L482.4 7.6 V17.4 H472 Z" fill="#FFFFFF" stroke="#909090" stroke-width="0.9"/>
<path d="M479.4 4.6 V7.6 H482.4" fill="#E0E0E0" stroke="#909090" stroke-width="0.7"/>
<path d="M475.5 7.5 Q474 8 474.2 10 T474 14" fill="none" stroke="#806040" stroke-width="0.7"/>
<path d="M479.2 10.4 H483 V14 H486.7 V17.8 H483 V21.5 H479.2 V17.8 H475.5 V14 H479.2 Z" fill="#38D838" stroke="#089008" stroke-width="0.8"/>
<path d="M480 11.2 H482.2 V14.8 H485.8" fill="none" stroke="#A0F8A0" stroke-width="0.7"/>
<polygon points="492.6,11 498.6,11 495.6,14.2" fill="#000"/>
<circle cx="517" cy="11.9" r="6.8" fill="url(#clk)" stroke="url(#ring)" stroke-width="2.6"/>
<g stroke="#8898A8" stroke-width="0.7"><path d="M517 7V8 M517 15.8V16.8 M512.1 11.9H513.1 M520.9 11.9H521.9 M513.6 8.5L514.3 9.2 M520.4 8.5L519.7 9.2 M513.6 15.3L514.3 14.6 M520.4 15.3L519.7 14.6"/></g>
<path d="M516.3 8.7 V12 H519.8" fill="none" stroke="#202020" stroke-width="1.1"/>
<rect x="515.8" y="14.4" width="2.2" height="0.8" fill="#60A0E8"/>
<polygon points="531.8,11 537.8,11 534.8,14.2" fill="#000"/>
<rect x="548.4" y="5.4" width="15.4" height="13.2" fill="#FFFFFF" stroke="#3474C4" stroke-width="0.9"/>
<rect x="548.4" y="5.4" width="15.4" height="2.4" fill="#4C8CDC"/>
<rect x="548.4" y="12.4" width="15.4" height="1.1" fill="#2C68B8"/>
<path d="M550.4 11.2 H552.4 L553.8 10.3 H555 L556 9.4 H557 L557.8 10.5 H559.8 L560.8 9.5 H562" fill="none" stroke="#B02810" stroke-width="1.1"/>
<path d="M551 16.4 H552.2 L553.4 15.4 H554.4 L555.2 16.4 H556.6 L558.4 14.4 H559.6 L561.6 16.6" fill="none" stroke="#189018" stroke-width="1.1"/>
<polygon points="570.8,11 576.8,11 573.8,14.2" fill="#000"/>
<rect x="582" y="0" width="1" height="23" fill="#909090" shape-rendering="crispEdges"/>
<rect x="583" y="0" width="1" height="23" fill="#FFFFFF" shape-rendering="crispEdges"/>
<rect x="586" y="2" width="3" height="1" fill="#A8A8A8" shape-rendering="crispEdges"/>
<rect x="586" y="4" width="3" height="1" fill="#A8A8A8" shape-rendering="crispEdges"/>
<rect x="586" y="6" width="3" height="1" fill="#A8A8A8" shape-rendering="crispEdges"/>
<rect x="586" y="8" width="3" height="1" fill="#A8A8A8" shape-rendering="crispEdges"/>
<rect x="586" y="10" width="3" height="1" fill="#A8A8A8" shape-rendering="crispEdges"/>
<rect x="586" y="12" width="3" height="1" fill="#A8A8A8" shape-rendering="crispEdges"/>
<rect x="586" y="14" width="3" height="1" fill="#A8A8A8" shape-rendering="crispEdges"/>
<rect x="586" y="16" width="3" height="1" fill="#A8A8A8" shape-rendering="crispEdges"/>
<rect x="586" y="18" width="3" height="1" fill="#A8A8A8" shape-rendering="crispEdges"/>
<rect x="586" y="20" width="3" height="1" fill="#A8A8A8" shape-rendering="crispEdges"/>
<g shape-rendering="crispEdges"><rect x="592" y="0" width="26" height="22" fill="url(#dith)"/><rect x="592" y="0" width="26" height="1" fill="#A0A0A0"/><rect x="592" y="0" width="1" height="22" fill="#A0A0A0"/><rect x="592" y="21" width="26" height="1" fill="#FFFFFF"/><rect x="617" y="0" width="1" height="22" fill="#FFFFFF"/></g>
<path d="M600 5.4 L600 16 L602.5 13.7 L604.6 18.8 L606.4 18 L604.4 13.2 L607.9 13.2 Z" fill="#404040"/>
<g stroke="#505050" stroke-width="1.1"><path d="M632.5 5 V10.6 M632.5 14.2 V20 M625 12.4 H630.6 M634.4 12.4 H640" fill="none"/></g>
<rect x="632" y="11.9" width="1" height="1" fill="#505050"/>
<rect x="649" y="1" width="1" height="21" fill="#A0A0A0" shape-rendering="crispEdges"/>
<rect x="650" y="1" width="1" height="21" fill="#FFFFFF" shape-rendering="crispEdges"/>
<line x1="666.5" y1="6" x2="666.5" y2="19" stroke="#505050" stroke-width="1.2"/>
<line x1="688.7" y1="12.4" x2="700.8" y2="12.4" stroke="#505050" stroke-width="1.2"/>
<line x1="717" y1="19" x2="729" y2="7" stroke="#505050" stroke-width="1.2"/>
<g stroke="#505050" stroke-width="1" fill="none"><path d="M742.8 13.6 L755.8 4.8 M744.8 18.6 L757.2 10.2 M746 11.5 L746.6 17.4 M748.6 9.7 L749.2 15.6 M751.2 8 L751.8 13.8 M753.8 6.2 L754.4 12"/></g>
<text x="753.6" y="20.8" font-family='"Liberation Sans", "Noto Sans CJK SC", sans-serif' font-size="6.4px" font-weight="bold" fill="#404040">E</text>
<line x1="772" y1="5.3" x2="785" y2="5.3" stroke="#505050" stroke-width="1" stroke-dasharray="1 1"/>
<line x1="772" y1="8.2" x2="785" y2="8.2" stroke="#505050" stroke-width="1" stroke-dasharray="1 1"/>
<line x1="772" y1="12" x2="785" y2="12" stroke="#505050" stroke-width="1" stroke-dasharray="1 1"/>
<line x1="772" y1="16.3" x2="781" y2="16.3" stroke="#505050" stroke-width="1" stroke-dasharray="1 1"/>
<text x="782" y="20.8" font-family='"Liberation Sans", "Noto Sans CJK SC", sans-serif' font-size="6.4px" font-weight="bold" fill="#404040">F</text>
<text x="802.6" y="16.9" font-family='"Liberation Sans", "Noto Sans CJK SC", sans-serif' font-size="11.6px" fill="#585858" stroke="#585858" stroke-width="0.35" textLength="7.7" lengthAdjust="spacingAndGlyphs">A</text>
<rect x="829.2" y="6.3" width="11.2" height="12" fill="none" stroke="#505050" stroke-width="1" stroke-dasharray="1 1"/>
<rect x="828.4" y="5.2" width="1.8" height="1" fill="#505050"/>
<text x="831.2" y="16.4" font-family='"Liberation Sans", "Noto Sans CJK SC", sans-serif' font-size="10px" fill="#585858" stroke="#585858" stroke-width="0.35" textLength="7.4" lengthAdjust="spacingAndGlyphs">T</text>
<polygon points="856,8.6 859.4,5.8 862.8,8.6 859.4,10.8" fill="#404040"/>
<polygon points="863.2,15.4 866.7,13 870.2,15.4 866.7,18.6" fill="#404040"/>
<path d="M857.6 12.6 L859.6 14.6 L864.4 9.6" fill="none" stroke="#404040" stroke-width="1.3"/>
<polygon points="876.6,11 882.6,11 879.6,14.2" fill="#000"/>
<rect x="888" y="0" width="1" height="23" fill="#909090" shape-rendering="crispEdges"/>
<rect x="889" y="0" width="1" height="23" fill="#FFFFFF" shape-rendering="crispEdges"/>
<rect x="892" y="2" width="3" height="1" fill="#A8A8A8" shape-rendering="crispEdges"/>
<rect x="892" y="4" width="3" height="1" fill="#A8A8A8" shape-rendering="crispEdges"/>
<rect x="892" y="6" width="3" height="1" fill="#A8A8A8" shape-rendering="crispEdges"/>
<rect x="892" y="8" width="3" height="1" fill="#A8A8A8" shape-rendering="crispEdges"/>
<rect x="892" y="10" width="3" height="1" fill="#A8A8A8" shape-rendering="crispEdges"/>
<rect x="892" y="12" width="3" height="1" fill="#A8A8A8" shape-rendering="crispEdges"/>
<rect x="892" y="14" width="3" height="1" fill="#A8A8A8" shape-rendering="crispEdges"/>
<rect x="892" y="16" width="3" height="1" fill="#A8A8A8" shape-rendering="crispEdges"/>
<rect x="892" y="18" width="3" height="1" fill="#A8A8A8" shape-rendering="crispEdges"/>
<rect x="892" y="20" width="3" height="1" fill="#A8A8A8" shape-rendering="crispEdges"/>
<g shape-rendering="crispEdges"><rect x="1038" y="0" width="26" height="22" fill="url(#dith)"/><rect x="1038" y="0" width="26" height="1" fill="#A0A0A0"/><rect x="1038" y="0" width="1" height="22" fill="#A0A0A0"/><rect x="1038" y="21" width="26" height="1" fill="#FFFFFF"/><rect x="1063" y="0" width="1" height="22" fill="#FFFFFF"/></g>
<text x="910" y="16" text-anchor="middle" font-family='"DejaVu Sans Condensed", "Liberation Sans", sans-serif' font-size="9.5px" fill="#505050">M1</text>
<text x="938" y="16" text-anchor="middle" font-family='"DejaVu Sans Condensed", "Liberation Sans", sans-serif' font-size="9.5px" fill="#505050">M5</text>
<text x="966.5" y="16" text-anchor="middle" font-family='"DejaVu Sans Condensed", "Liberation Sans", sans-serif' font-size="9.5px" fill="#505050">M15</text>
<text x="994.4" y="16" text-anchor="middle" font-family='"DejaVu Sans Condensed", "Liberation Sans", sans-serif' font-size="9.5px" fill="#505050">M30</text>
<text x="1022.4" y="16" text-anchor="middle" font-family='"DejaVu Sans Condensed", "Liberation Sans", sans-serif' font-size="9.5px" fill="#505050">H1</text>
<text x="1049.6" y="16" text-anchor="middle" font-family='"DejaVu Sans Condensed", "Liberation Sans", sans-serif' font-size="9.5px" fill="#505050">H4</text>
<text x="1078.4" y="16" text-anchor="middle" font-family='"DejaVu Sans Condensed", "Liberation Sans", sans-serif' font-size="9.5px" fill="#505050">D1</text>
<text x="1107.2" y="16" text-anchor="middle" font-family='"DejaVu Sans Condensed", "Liberation Sans", sans-serif' font-size="9.5px" fill="#505050">W1</text>
<text x="1134" y="16" text-anchor="middle" font-family='"DejaVu Sans Condensed", "Liberation Sans", sans-serif' font-size="9.5px" fill="#505050">MN</text>
<rect x="1149" y="1" width="1" height="21" fill="#A0A0A0" shape-rendering="crispEdges"/>
<rect x="1150" y="1" width="1" height="21" fill="#FFFFFF" shape-rendering="crispEdges"/>
<line x1="1616.4" y1="12.4" x2="1612" y2="16.8" stroke="#2868D8" stroke-width="2.2" stroke-linecap="round"/>
<circle cx="1619.6" cy="9.4" r="3.8" fill="#FAFAFF" stroke="#2868D8" stroke-width="1.2"/>
<path d="M1636.2 13.8 Q1636.2 9.2 1642 9.2 Q1647.6 9.2 1647.6 13.8 Q1647.6 18 1642 18 L1640.4 18 L1638.6 20.6 L1638.8 17.6 Q1636.2 16.8 1636.2 13.8 Z" fill="#E4E6F2" stroke="#A0A0A0" stroke-width="0.8"/>
<circle cx="1650.6" cy="9.5" r="8.3" fill="url(#badge)"/>
<text x="1649.6" y="13.9" text-anchor="middle" font-family='"DejaVu Sans", "Liberation Sans", sans-serif' font-size="11.6px" fill="#FFFFFF" stroke="#FFFFFF" stroke-width="0.3">1</text>
</svg>
</body></html>
